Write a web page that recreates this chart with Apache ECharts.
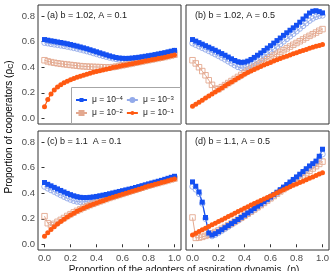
<!DOCTYPE html>
<html><head><meta charset="utf-8">
<script src="https://cdn.jsdelivr.net/npm/echarts@6/dist/echarts.min.js"></script>
<style>html,body{margin:0;padding:0;background:#fff}#c{width:334px;height:271px}</style>
</head><body><div id="c"></div>
<script>
// ---------- data ----------
const pValues = [0,0.025,0.05,0.075,0.1,0.125,0.15,0.175,0.2,0.225,0.25,0.275,0.3,0.325,0.35,0.375,0.4,0.425,0.45,0.475,0.5,0.525,0.55,0.575,0.6,0.625,0.65,0.675,0.7,0.725,0.75,0.775,0.8,0.825,0.85,0.875,0.9,0.925,0.95,0.975,1];
const xTicks = [0,0.2,0.4,0.6,0.8,1.0];
const yTicks = [0,0.2,0.4,0.6,0.8];
const muNames = ['μ = 10^-4','μ = 10^-3','μ = 10^-2','μ = 10^-1'];
const panelTitles = ['(a) b = 1.02, A = 0.1','(b) b = 1.02, A = 0.5','(c) b = 1.1  A = 0.1','(d) b = 1.1, A = 0.5'];
const xTitle = 'Proportion of the adopters of aspiration dynamis  (p)';
const yTitle = 'Proportion of cooperators (ρ';

// panel (a)
const a_mu4 = [0.617,0.612,0.607,0.603,0.598,0.594,0.589,0.584,0.578,0.572,0.566,0.559,0.552,0.545,0.537,0.529,0.521,0.513,0.505,0.497,0.489,0.482,0.476,0.472,0.470,0.469,0.470,0.472,0.475,0.478,0.482,0.486,0.490,0.494,0.499,0.504,0.509,0.514,0.520,0.526,0.532];
const a_mu3 = [0.592,0.588,0.583,0.579,0.575,0.571,0.567,0.562,0.557,0.551,0.546,0.539,0.533,0.526,0.519,0.511,0.504,0.496,0.489,0.482,0.476,0.470,0.465,0.461,0.459,0.459,0.460,0.462,0.465,0.469,0.473,0.477,0.482,0.486,0.491,0.497,0.502,0.508,0.514,0.520,0.527];
const a_mu2 = [0.455,0.446,0.440,0.435,0.431,0.427,0.424,0.421,0.418,0.415,0.412,0.409,0.407,0.405,0.404,0.403,0.402,0.401,0.400,0.399,0.398,0.401,0.405,0.410,0.415,0.420,0.425,0.430,0.435,0.440,0.445,0.450,0.455,0.460,0.465,0.470,0.475,0.480,0.486,0.492,0.498];
const a_mu1 = [0.090,0.148,0.190,0.221,0.245,0.263,0.278,0.291,0.302,0.312,0.321,0.330,0.338,0.346,0.353,0.360,0.367,0.373,0.379,0.385,0.391,0.397,0.402,0.408,0.413,0.418,0.423,0.428,0.433,0.438,0.443,0.448,0.453,0.458,0.463,0.468,0.473,0.478,0.484,0.490,0.496];
// panel (b)
const b_mu4 = [0.617,0.605,0.593,0.581,0.569,0.557,0.545,0.533,0.520,0.507,0.494,0.480,0.466,0.453,0.443,0.438,0.440,0.448,0.461,0.477,0.494,0.512,0.531,0.550,0.569,0.589,0.609,0.629,0.650,0.670,0.690,0.709,0.729,0.753,0.778,0.802,0.825,0.839,0.843,0.836,0.826];
const b_mu3 = [0.588,0.576,0.564,0.552,0.540,0.528,0.515,0.502,0.489,0.475,0.461,0.446,0.431,0.416,0.402,0.394,0.396,0.405,0.418,0.433,0.449,0.466,0.484,0.503,0.522,0.542,0.562,0.582,0.602,0.622,0.642,0.662,0.682,0.703,0.724,0.745,0.765,0.782,0.795,0.803,0.806];
const b_mu2 = [0.455,0.430,0.400,0.370,0.337,0.298,0.262,0.232,0.228,0.244,0.260,0.276,0.292,0.308,0.324,0.340,0.356,0.372,0.388,0.403,0.418,0.433,0.448,0.463,0.478,0.492,0.506,0.520,0.534,0.548,0.562,0.576,0.590,0.604,0.618,0.632,0.646,0.659,0.672,0.686,0.699];
const b_mu1 = [0.094,0.110,0.126,0.142,0.158,0.174,0.190,0.206,0.222,0.238,0.254,0.270,0.285,0.300,0.315,0.330,0.345,0.358,0.371,0.383,0.395,0.406,0.417,0.428,0.438,0.448,0.458,0.468,0.478,0.487,0.496,0.505,0.514,0.523,0.532,0.540,0.548,0.556,0.564,0.571,0.578];
// panel (c)
const c_mu4 = [0.484,0.470,0.458,0.446,0.434,0.422,0.410,0.399,0.389,0.380,0.373,0.368,0.366,0.366,0.368,0.371,0.375,0.380,0.385,0.390,0.396,0.402,0.408,0.414,0.420,0.426,0.432,0.438,0.445,0.452,0.459,0.466,0.473,0.480,0.487,0.494,0.501,0.509,0.517,0.525,0.533];
const c_mu3 = [0.452,0.438,0.425,0.412,0.399,0.386,0.373,0.361,0.350,0.341,0.335,0.332,0.333,0.336,0.341,0.347,0.354,0.361,0.368,0.375,0.382,0.389,0.396,0.403,0.410,0.417,0.424,0.431,0.438,0.445,0.452,0.459,0.466,0.473,0.480,0.487,0.494,0.501,0.509,0.517,0.525];
const c_mu2 = [0.220,0.165,0.150,0.160,0.176,0.191,0.206,0.222,0.236,0.250,0.262,0.274,0.286,0.297,0.307,0.317,0.327,0.336,0.345,0.354,0.363,0.371,0.379,0.387,0.395,0.403,0.411,0.419,0.427,0.435,0.443,0.451,0.459,0.466,0.473,0.480,0.487,0.494,0.501,0.508,0.515];
const c_mu1 = [0.063,0.090,0.115,0.138,0.159,0.178,0.196,0.213,0.229,0.244,0.258,0.271,0.283,0.294,0.304,0.314,0.324,0.333,0.342,0.351,0.360,0.368,0.376,0.384,0.392,0.400,0.408,0.416,0.424,0.432,0.440,0.448,0.456,0.463,0.470,0.477,0.484,0.491,0.498,0.505,0.512];
// panel (d)
const d_mu4 = [0.489,0.455,0.410,0.330,0.210,0.088,0.072,0.083,0.098,0.114,0.130,0.146,0.162,0.178,0.194,0.211,0.228,0.245,0.262,0.280,0.298,0.316,0.334,0.352,0.370,0.389,0.408,0.428,0.448,0.468,0.488,0.508,0.528,0.549,0.570,0.592,0.614,0.632,0.652,0.690,0.745];
const d_mu3 = [0.452,0.430,0.395,0.320,0.200,0.078,0.064,0.075,0.090,0.106,0.122,0.138,0.154,0.170,0.186,0.203,0.220,0.237,0.254,0.272,0.290,0.308,0.326,0.344,0.362,0.381,0.400,0.419,0.439,0.459,0.479,0.499,0.519,0.540,0.561,0.582,0.602,0.620,0.642,0.672,0.706];
const d_mu2 = [0.210,0.050,0.052,0.058,0.066,0.075,0.085,0.096,0.108,0.121,0.135,0.149,0.163,0.178,0.193,0.208,0.224,0.240,0.256,0.273,0.290,0.307,0.324,0.342,0.360,0.378,0.396,0.414,0.432,0.450,0.468,0.486,0.504,0.522,0.540,0.558,0.576,0.594,0.612,0.630,0.648];
const d_mu1 = [0.073,0.087,0.100,0.113,0.126,0.139,0.152,0.165,0.178,0.191,0.204,0.217,0.230,0.243,0.256,0.269,0.282,0.295,0.307,0.319,0.331,0.343,0.355,0.367,0.379,0.391,0.403,0.415,0.427,0.439,0.451,0.462,0.473,0.484,0.495,0.506,0.517,0.528,0.539,0.550,0.561];

// ---------- chart ----------
const FONT = '"Liberation Sans", Arial, Helvetica, sans-serif';
const panels = [
  [a_mu4, a_mu3, a_mu2, a_mu1],
  [b_mu4, b_mu3, b_mu2, b_mu1],
  [c_mu4, c_mu3, c_mu2, c_mu1],
  [d_mu4, d_mu3, d_mu2, d_mu1]
];
const gridBoxes = [
  {left: 38, top: 5, width: 143, height: 119},
  {left: 186, top: 5, width: 143, height: 119},
  {left: 38, top: 131, width: 143, height: 119},
  {left: 186, top: 131, width: 143, height: 119}
];
const styles = [
  {symbol: 'rect', size: 5, color: '#1450F2', fill: '#1450F2', lw: 1.2},
  {symbol: 'circle', size: 5.5, color: '#93AAEA', fill: 'rgba(0,0,0,0)', lw: 1},
  {symbol: 'rect', size: 5.5, color: '#E3A88F', fill: 'rgba(0,0,0,0)', lw: 1},
  {symbol: 'circle', size: 5, color: '#FF5A12', fill: '#FF5A12', lw: 1.2}
];
const drawOrder = [1, 2, 0, 3];

const grid = gridBoxes.map(g => Object.assign({show: true, borderColor: '#333', borderWidth: 1, backgroundColor: 'rgba(0,0,0,0)'}, g));
const xAxis = gridBoxes.map((g, i) => ({
  type: 'value', gridIndex: i, min: -0.05, max: 1.05,
  splitLine: {show: false}, axisLine: {show: false},
  axisTick: {show: i >= 2, customValues: xTicks, length: 3, lineStyle: {color: '#333'}},
  axisLabel: {show: i >= 2, customValues: xTicks, formatter: v => v.toFixed(1), fontSize: 9.5, color: '#4D4D4D', fontFamily: FONT, margin: 3}
}));
const yAxis = gridBoxes.map((g, i) => ({
  type: 'value', gridIndex: i, min: -0.045, max: 0.888,
  splitLine: {show: false}, axisLine: {show: false},
  axisTick: {show: i % 2 === 0, customValues: yTicks, length: 3, lineStyle: {color: '#333'}},
  axisLabel: {show: i % 2 === 0, customValues: yTicks, formatter: v => v.toFixed(1), fontSize: 9.5, color: '#4D4D4D', fontFamily: FONT, margin: 3}
}));

const series = [];
panels.forEach((pd, i) => {
  drawOrder.forEach(j => {
    const s = styles[j];
    series.push({
      name: muNames[j], type: 'line', xAxisIndex: i, yAxisIndex: i,
      data: pValues.map((p, k) => [p, pd[j][k]]),
      symbol: s.symbol, symbolSize: s.size, showSymbol: true,
      lineStyle: {color: s.color, width: s.lw},
      itemStyle: {color: s.fill, borderColor: s.color, borderWidth: s.fill === s.color ? 0 : 0.9},
      emphasis: {disabled: true}, animation: false, clip: true
    });
  });
});

const richLegend = {
  t: {fontSize: 8.5, fontFamily: FONT, color: '#1a1a1a', lineHeight: 10},
  s: {fontSize: 6, fontFamily: FONT, color: '#1a1a1a', verticalAlign: 'top', lineHeight: 10}
};
const legendFmt = name => {
  const m = name.split('^');
  return '{t|' + m[0] + '}{s|' + m[1].replace('-', '−') + '}';
};
const legendBase = {
  orient: 'horizontal', padding: 0, itemGap: 3, itemWidth: 11, itemHeight: 5,
  selectedMode: false, formatter: legendFmt, z: 60,
  textStyle: {fontFamily: FONT, fontSize: 8.5, color: '#1a1a1a', rich: richLegend}
};

const option = {
  animation: false,
  grid, xAxis, yAxis, series,
  title: panelTitles.map((t, i) => ({
    text: t, left: gridBoxes[i].left + 9, top: gridBoxes[i].top + 6, padding: 0,
    textStyle: {fontSize: 9, fontWeight: 'normal', color: '#1a1a1a', fontFamily: FONT, lineHeight: 10}
  })),
  legend: [
    Object.assign({}, legendBase, {data: [muNames[0], muNames[1]], left: 75, top: 95}),
    Object.assign({}, legendBase, {data: [muNames[2], muNames[3]], left: 75, top: 108})
  ],
  graphic: {
    elements: [
      {type: 'rect', z: 50, zlevel: 0, shape: {x: 71.5, y: 87.5, width: 109, height: 36}, style: {fill: '#fff', stroke: '#A6A6A6', lineWidth: 1}},
      {type: 'text', x: 9, y: 127, rotation: Math.PI / 2,
       style: {text: '{t|' + yTitle + '}{s|C}{t|)}', align: 'center', verticalAlign: 'middle', textAlign: 'center', textVerticalAlign: 'middle',
         rich: {t: {fontSize: 10, fontFamily: FONT, color: '#1a1a1a', lineHeight: 12}, s: {fontSize: 7, fontFamily: FONT, color: '#1a1a1a', verticalAlign: 'bottom', lineHeight: 12}}}},
      {type: 'text', x: 184, y: 270,
       style: {text: xTitle, fontSize: 10, fontFamily: FONT, fill: '#1a1a1a', align: 'center', verticalAlign: 'middle', textAlign: 'center', textVerticalAlign: 'middle'}}
    ]
  }
};

const chart = echarts.init(document.getElementById('c'), null, {renderer: 'canvas'});
chart.setOption(option);
</script>
</body></html>
